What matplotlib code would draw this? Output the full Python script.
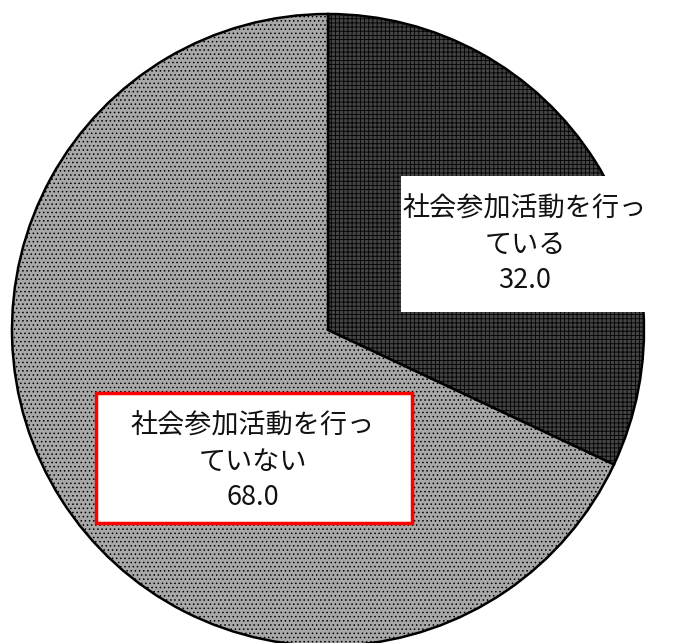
import matplotlib.pyplot as plt
from matplotlib.patches import Rectangle

plt.rcParams['font.family'] = ['Noto Sans CJK JP', 'DejaVu Sans']

# data
labels = ['社会参加活動を行っ\nている', '社会参加活動を行っ\nていない']
values = [32.0, 68.0]
colors = ['#444444', '#a8a8a8']

W, H = 698, 643
fig = plt.figure(figsize=(W / 100, H / 100), dpi=100)
ax = fig.add_axes([0, 0, 1, 1])
ax.set_xlim(0, W)
ax.set_ylim(0, H)
ax.set_aspect('equal')
ax.axis('off')

plt.rcParams['hatch.color'] = '#1e1e1e'
plt.rcParams['hatch.linewidth'] = 0.6
wedges, _ = ax.pie(values, center=(328, H - 330), radius=316, startangle=90,
                   counterclock=False, colors=colors,
                   wedgeprops=dict(edgecolor='black', linewidth=1.8))
ax.set_xlim(0, W)
ax.set_ylim(0, H)
wedges[0].set_hatch('++++')
wedges[1].set_hatch('....')

# label boxes
ax.add_patch(Rectangle((401, H - 312), 247, 136, facecolor='white',
                       edgecolor='none', zorder=3))
ax.add_patch(Rectangle((96, H - 523), 316, 130, facecolor='white',
                       edgecolor='#ff0000', linewidth=2.5, zorder=3))

pos = [(525, H - 245), (253, H - 462)]
for lab, v, (x, y) in zip(labels, values, pos):
    ax.text(x, y, f'{lab}\n{v:.1f}', ha='center', va='center', fontsize=19.5,
            linespacing=1.42, color='#111111', zorder=4)

fig.savefig('out.png', dpi=100)
